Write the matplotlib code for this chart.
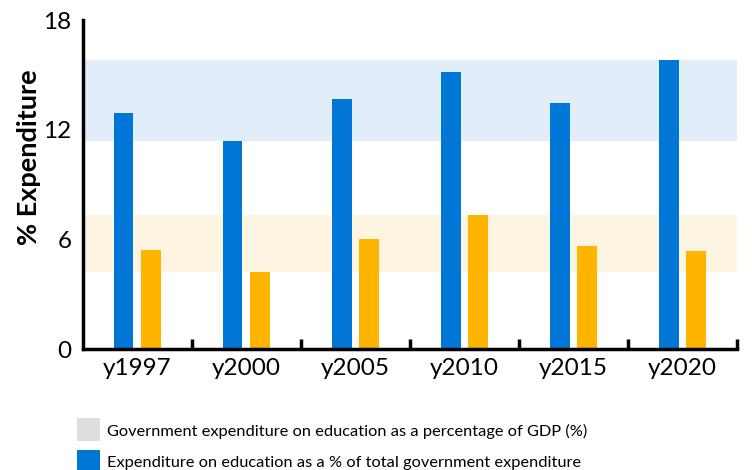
import matplotlib
matplotlib.use("Agg")
import matplotlib.pyplot as plt
from matplotlib.patches import Rectangle
import numpy as np

categories = ["y1997", "y2000", "y2005", "y2010", "y2015", "y2020"]
pct_total_gov = [12.9, 11.4, 13.7, 15.15, 13.45, 15.8]
pct_gdp = [5.45, 4.2, 6.05, 7.35, 5.65, 5.4]
yticks = [0, 6, 12, 18]
legend_labels = ["Government expenditure on education as a percentage of GDP (%)",
                 "Expenditure on education as a % of total government expenditure"]

plt.rcParams['font.family'] = ['Lato', 'DejaVu Sans']

blue = "#0077d6"
orange = "#ffb500"
blue_band = "#e1edf8"
orange_band = "#fdf5e2"
gray = "#dedede"

W, H = 752, 470
fig = plt.figure(figsize=(W / 100, H / 100), dpi=100)
ax = fig.add_axes([0.110, 0.257, 0.870, 0.700])

x = np.arange(len(categories))
ax.axhspan(min(pct_total_gov), max(pct_total_gov), color=blue_band, zorder=0, lw=0)
ax.axhspan(min(pct_gdp), max(pct_gdp), color=orange_band, zorder=0, lw=0)
w = 0.18
ax.bar(x - 0.125, pct_total_gov, width=w, color=blue, zorder=2)
ax.bar(x + 0.125, pct_gdp, width=w, color=orange, zorder=2)

ax.set_xlim(-0.5, len(categories) - 0.5)
ax.set_ylim(0, 18)
ax.set_yticks(yticks)
ax.set_yticklabels([str(t) for t in yticks], fontsize=17.5)
ax.tick_params(axis='y', length=0, pad=8)

ax.set_xticks(x)
ax.set_xticklabels(categories, fontsize=17.5)
ax.tick_params(axis='x', which='major', length=0, pad=6)
ax.set_xticks(np.arange(len(categories)) + 0.5, minor=True)
ax.tick_params(axis='x', which='minor', direction='in', length=7, width=2.5, color='black')

for s in ['top', 'right']:
    ax.spines[s].set_visible(False)
for s in ['left', 'bottom']:
    ax.spines[s].set_linewidth(2.5)
    ax.spines[s].set_color('black')

ax.set_ylabel("% Expenditure", fontsize=19.5, fontweight='bold')
ax.yaxis.set_label_coords((41 - 83) / (0.87 * W), 0.585)

# legend drawn in figure coordinates
def fx(px):
    return px / W

def fy(py):
    return 1 - py / H

for (top, color, label, ty) in [(418, gray, legend_labels[0], 431),
                                (450, blue, legend_labels[1], 463)]:
    fig.patches.append(Rectangle((fx(77), fy(top + 23)), 23 / W, 23 / H,
                                 transform=fig.transFigure, facecolor=color,
                                 edgecolor='none'))
    fig.text(fx(107), fy(ty), label, fontsize=11.8, va='center', ha='left')

fig.savefig("out.png", dpi=100)
